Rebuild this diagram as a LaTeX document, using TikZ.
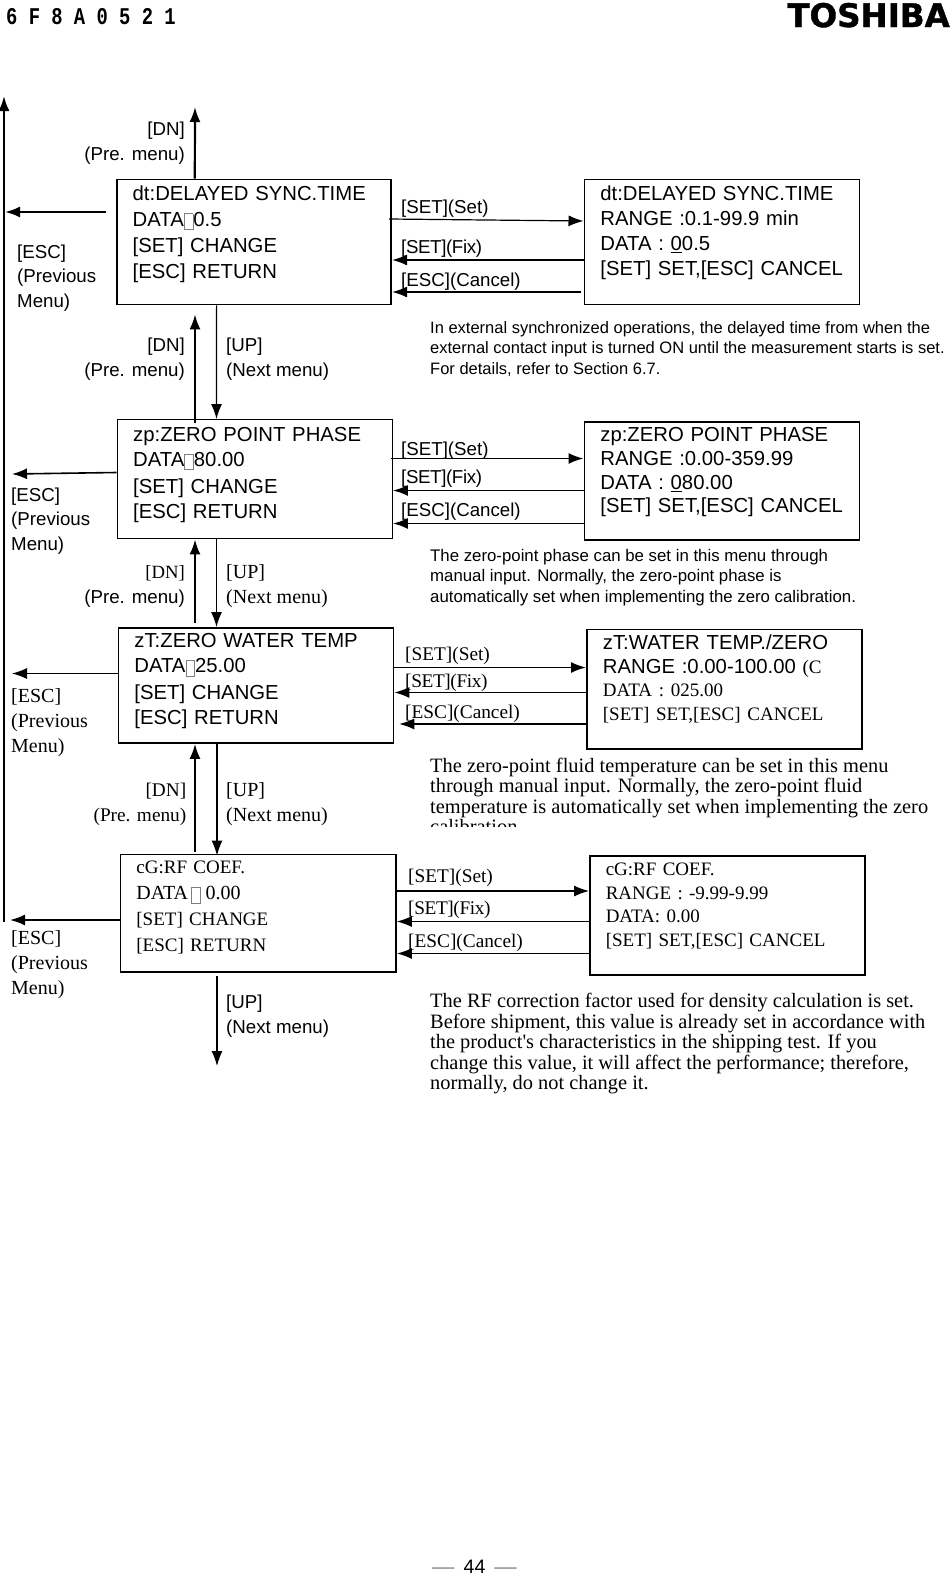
\documentclass[tikz,border=0pt]{standalone}
\usepackage{fontspec}
\setmainfont{Liberation Sans}
\newfontfamily\seriffam{Liberation Serif}
\newfontfamily\monofam{Liberation Mono}
\newfontfamily\logofam{DejaVu Sans}[BoldFeatures={FakeBold=1.2}]
\usetikzlibrary{arrows.meta}
\newcommand{\tofu}{{\fboxsep=0pt\fboxrule=0.8pt\raisebox{-3pt}{\fcolorbox{gray}{white}{\rule{0pt}{15pt}\hspace{8pt}}}}}
\newcommand{\fixkey}{{\addfontfeature{LetterSpace=-2}[SET](Fix)}}
\newcommand{\pagedash}{\textcolor{gray}{\scalebox{1.15}[1]{—}}}
\tikzset{
    menubox/.style n args={3}{draw, line width=1.8pt, anchor=north west, inner xsep=16pt, inner ysep=0pt,
        text width=#1pt, text height=#2pt, text depth=#3pt, align=left},
    sanstext/.style={font=\fontsize{20.3}{25.2}\selectfont},
    sansedit/.style={font=\fontsize{20.3}{23.6}\selectfont},
    seriftext/.style={font=\fontsize{19}{25.5}\seriffam\selectfont},
    serifedit/.style={font=\fontsize{19}{23.6}\seriffam\selectfont},
    keysans/.style={font=\fontsize{18.7}{24.3}\selectfont, align=left, anchor=base west, inner sep=0pt},
    keyserif/.style={font=\fontsize{19.3}{24.3}\seriffam\selectfont, align=left, anchor=base west, inner sep=0pt},
    keywide/.style={font=\fontsize{20}{24.8}\seriffam\selectfont, align=left, anchor=base west, inner sep=0pt},
    notesans/.style={font=\fontsize{16.5}{20.5}\selectfont, align=left, anchor=base west, inner sep=0pt},
    noteserif/.style={font=\fontsize{20.4}{20.5}\seriffam\selectfont, align=left, anchor=base west, inner sep=0pt},
    fat/.style={-{Latex[length=15pt,width=11pt]}, line width=2.2pt},
    lean/.style={-{Latex[length=15pt,width=11pt]}, line width=1.2pt}
}
\begin{document}
\begin{tikzpicture}[x=1pt, y=-1pt]
    \useasboundingbox (0,0) rectangle (950,1577);

    % page header and footer
    \node[transform shape, xscale=0.785, anchor=base west, inner sep=0pt, font=\fontsize{24}{24}\monofam\bfseries\selectfont] (docno) at (6,24.5) {6 F 8 A 0 5 2 1};
    \node[anchor=base east, inner sep=0pt, font=\fontsize{32.5}{33}\logofam\bfseries\selectfont] (logo) at (950,27) {TOSHIBA};
    \node[anchor=base, inner sep=0pt, font=\fontsize{19.5}{20}\selectfont] (pageno) at (474.5,1573.5) {\pagedash\hspace{9pt}44\hspace{9pt}\pagedash};

    % menu boxes
    \node[menubox={242.5}{21.5}{103.5}, sanstext] (dtMenu) at (115.8,178.5) {dt:DELAYED SYNC.TIME\\DATA\tofu 0.5\\[1.5pt]{}[SET] CHANGE\\{}[ESC] RETURN};
    \node[menubox={243}{21.5}{103.5}, sansedit, font=\fontsize{20.3}{24.7}\selectfont] (dtEdit) at (583.5,178.5) {dt:DELAYED SYNC.TIME\\RANGE :0.1-99.9 min\\DATA : \underline{0}0.5\\{}[SET]~SET,[ESC]~CANCEL};
    \node[menubox={243}{21.5}{97.5}, sanstext, line width=1.4pt] (zpMenu) at (116.5,419) {zp:ZERO POINT PHASE\\DATA\tofu 80.00\\[1.5pt]{}[SET] CHANGE\\{}[ESC] RETURN};
    \node[menubox={243}{20}{98}, sansedit] (zpEdit) at (583.5,421) {zp:ZERO POINT PHASE\\RANGE :0.00-359.99\\DATA : \underline{0}80.00\\{}[SET]~SET,[ESC]~CANCEL};
    \node[menubox={243}{19.5}{95.5}, sanstext] (ztMenu) at (117.5,627) {zT:ZERO WATER TEMP\\DATA\tofu 25.00\\[1.5pt]{}[SET] CHANGE\\{}[ESC] RETURN};
    \node[menubox={243}{20}{99.5}, sansedit] (ztEdit) at (586,628.5) {zT:WATER TEMP./ZERO\\RANGE :0.00-100.00 {\fontsize{19}{23}\seriffam\selectfont (C}\\{\fontsize{19}{23}\seriffam\selectfont DATA : 025.00}\\{\fontsize{19}{23}\seriffam\selectfont [SET]~SET,[ESC]~CANCEL}};
    \node[menubox={243.5}{19.5}{98}, seriftext, font=\fontsize{19}{26}\seriffam\selectfont] (cgMenu) at (119.5,853.5) {cG:RF COEF.\\{\fontsize{20}{24}\selectfont DATA\hspace{3pt}\tofu\hspace{5pt}0.00}\\{}[SET] CHANGE\\{}[ESC] RETURN};
    \node[menubox={243}{20}{99}, serifedit, line width=1.5pt] (cgEdit) at (589,855) {cG:RF COEF.\\RANGE : -9.99-9.99\\DATA: 0.00\\{}[SET]~SET,[ESC]~CANCEL};

    % free ends
    \coordinate (busLow) at (4,922);
    \coordinate (busTop) at (4,96);
    \coordinate (topEnd) at (195,107);
    \coordinate (lowEnd) at (217,1066);
    \coordinate (dtEsc) at (5,212);
    \coordinate (zpEsc) at (12,474);
    \coordinate (ztEsc) at (12,673.5);
    \coordinate (cgEsc) at (10,920);

    % long return line and escapes
    \draw[fat] (busLow) -- (busTop);
    \draw[fat] ([shift={(-10pt,-33.5pt)}]dtMenu.north west) -- (dtEsc);
    \draw[lean, line width=1.6pt] ([yshift=-53.5pt]zpMenu.north west) -- (zpEsc);
    \draw[lean] ([yshift=-46.5pt]ztMenu.north west) -- (ztEsc);
    \draw[lean, line width=1.8pt] ([yshift=-66.5pt]cgMenu.north west) -- (cgEsc);

    % up and down between the menus
    \draw[fat] ([xshift=79pt]dtMenu.north west) -- (topEnd);
    \draw[fat] ([shift={(78.5pt,-4pt)}]zpMenu.north west) -- ([shift={(79.2pt,-9pt)}]dtMenu.south west);
    \draw[lean] ([xshift=100.8pt]dtMenu.south west) -- ([xshift=100pt]zpMenu.north west);
    \draw[fat] ([shift={(77.5pt,4pt)}]ztMenu.north west) -- ([xshift=78.5pt]zpMenu.south west);
    \draw[lean] ([xshift=100pt]zpMenu.south west) -- ([xshift=99pt]ztMenu.north west);
    \draw[fat] ([shift={(75.5pt,2pt)}]cgMenu.north west) -- ([xshift=77.5pt]ztMenu.south west);
    \draw[lean] ([xshift=99.5pt]ztMenu.south west) -- ([xshift=97.5pt,yshift=-2pt]cgMenu.north west);
    \draw[lean] ([shift={(97.5pt,-3pt)}]cgMenu.south west) -- (lowEnd);

    % set and fix and cancel
    \draw[lean] ([shift={(-3pt,-40.5pt)}]dtMenu.north east) -- ([yshift=-42.5pt]dtEdit.north west);
    \draw[lean, line width=1.6pt] ([yshift=-81.5pt]dtEdit.north west) -- ([yshift=-81.5pt]dtMenu.north east);
    \draw[lean, line width=1.6pt] ([shift={(-3pt,-113.5pt)}]dtEdit.north west) -- ([yshift=-113.5pt]dtMenu.north east);

    \draw[lean, line width=1.8pt] ([xshift=-2pt,yshift=-39.5pt]zpMenu.north east) -- ([yshift=-37.5pt]zpEdit.north west);
    \draw[lean, line width=1.8pt] ([yshift=-69.5pt]zpEdit.north west) -- ([yshift=-71.5pt]zpMenu.north east);
    \draw[lean, line width=1.8pt] ([yshift=-102.5pt]zpEdit.north west) -- ([yshift=-104.5pt]zpMenu.north east);

    \draw[lean, line width=1.8pt] ([yshift=-40.5pt]ztMenu.north east) -- ([yshift=-39pt]ztEdit.north west);
    \draw[lean, line width=1.8pt] ([yshift=-64pt]ztEdit.north west) -- ([yshift=-65.5pt]ztMenu.north east);
    \draw[lean] ([yshift=-95.5pt]ztEdit.north west) -- ([shift={(5pt,-97pt)}]ztMenu.north east);

    \draw[lean] ([yshift=-37.5pt]cgMenu.north east) -- ([yshift=-36pt]cgEdit.north west);
    \draw[lean] ([yshift=-66.5pt]cgEdit.north west) -- ([yshift=-68pt]cgMenu.north east);
    \draw[lean, line width=1.8pt] ([yshift=-98.5pt]cgEdit.north west) -- ([yshift=-100pt]cgMenu.north east);

    % key labels, left side
    \node[keysans, anchor=base east, align=right] (dnA) at (185,160) {[DN]\\(Pre. menu)};
    \node[keysans] (escA) at (17,307) {[ESC]\\(Previous\\Menu)};
    \node[keysans, anchor=base east, align=right] (dnB) at (185,376) {[DN]\\(Pre. menu)};
    \node[keysans] (upB) at (226,376) {[UP]\\(Next menu)};
    \node[keysans] (escB) at (11,550) {[ESC]\\(Previous\\Menu)};
    \node[keysans, anchor=base east, align=right] (dnC) at (185,603) {{\seriffam [DN]}\\(Pre. menu)};
    \node[keywide] (upC) at (226,603) {[UP]\\(Next menu)};
    \node[keywide] (escC) at (11,752) {[ESC]\\(Previous\\Menu)};
    \node[keyserif, anchor=base east, align=right] (dnD) at (186.5,821) {[DN]\\(Pre. menu)};
    \node[keywide] (upD) at (226,821) {[UP]\\(Next menu)};
    \node[keywide] (escD) at (11,994) {[ESC]\\(Previous\\Menu)};
    \node[keysans] (upE) at (226,1033) {[UP]\\(Next menu)};

    % key labels, right side
    \node[keysans] (setA) at (401,213) {[SET](Set)};
    \node[keysans] (fixA) at (401,253) {\fixkey};
    \node[keysans] (canA) at (401,286) {[ESC](Cancel)};
    \node[keysans] (setB) at (401,455.5) {[SET](Set)};
    \node[keysans] (fixB) at (401,483) {\fixkey};
    \node[keysans] (canB) at (401,516) {[ESC](Cancel)};
    \node[keyserif] (setC) at (405,660.5) {[SET](Set)};
    \node[keyserif] (fixC) at (405,687.5) {\fixkey};
    \node[keyserif] (canC) at (405,718) {[ESC](Cancel)};
    \node[keyserif] (setD) at (408,882.5) {[SET](Set)};
    \node[keyserif] (fixD) at (408,914) {\fixkey};
    \node[keyserif] (canD) at (408,947.5) {[ESC](Cancel)};

    % notes
    \node[notesans] (noteA) at (430,374) {In external synchronized operations, the delayed time from when the\\external contact input is turned ON until the measurement starts is set.\\For details, refer to Section 6.7.};
    \node[notesans, font=\fontsize{16.8}{20.5}\selectfont] (noteB) at (430,602) {The zero-point phase can be set in this menu through\\manual input. Normally, the zero-point phase is\\automatically set when implementing the zero calibration.};
    \begin{scope}
        \clip (420,755) rectangle (950,826.5);
        \node[noteserif] (noteC) at (430,833.5) {The zero-point fluid temperature can be set in this menu\\through manual input. Normally, the zero-point fluid\\temperature is automatically set when implementing the zero\\calibration};
    \end{scope}
    \node[noteserif] (noteD) at (430,1089.5) {The RF correction factor used for density calculation is set.\\Before shipment, this value is already set in accordance with\\the product's characteristics in the shipping test. If you\\change this value, it will affect the performance; therefore,\\normally, do not change it.};
\end{tikzpicture}
\end{document}
